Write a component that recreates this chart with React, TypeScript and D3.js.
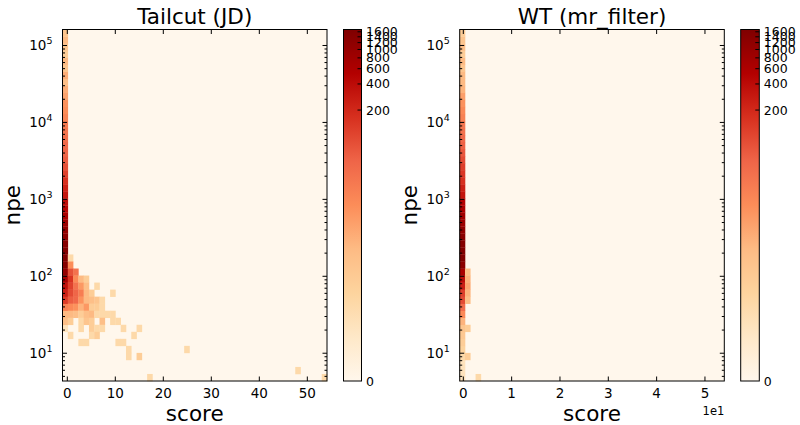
import React from 'react';
import * as d3 from 'd3';

// ---------------- data ----------------
const N_BINS = 50;
const tailcutScoreRange = [-1.0, 54.1];
const wtScoreRange = [-0.75, 54.0];
const npeRange = [4.355, 161400];

// counts of the first score bin, npe bins from bottom (row 0) to top (row 49)
const tailcutFirstColumn = [
  0, 0, 0, 0, 0, 0, 0, 0.5, 4, 5,
  22, 130, 250, 350, 700, 1100, 1500, 1650, 1600, 1450,
  1300, 1100, 900, 650, 480, 380, 300, 230, 160, 110,
  80, 60, 50, 45, 38, 32, 28, 20, 16, 14,
  9, 7, 4, 7, 3, 5, 2, 3, 5, 3,
];
// other non-empty cells: [score bin, npe bin, count]
const tailcutCells: [number, number, number][] = [
  [1, 17, 1],
  [1, 16, 16],
  [1, 15, 80], [2, 15, 35],
  [1, 14, 150], [2, 14, 18], [3, 14, 5], [4, 14, 2],
  [1, 13, 110], [2, 13, 35], [3, 13, 12], [4, 13, 4], [6, 13, 1],
  [1, 12, 90], [2, 12, 50], [3, 12, 25], [4, 12, 5], [5, 12, 2], [9, 12, 1],
  [1, 11, 60], [2, 11, 45], [3, 11, 14], [4, 11, 5], [5, 11, 4], [6, 11, 3], [7, 11, 1],
  [1, 10, 18], [2, 10, 14], [3, 10, 6], [4, 10, 12], [5, 10, 2], [6, 10, 2], [7, 10, 1],
  [1, 9, 5], [2, 9, 4], [3, 9, 2], [4, 9, 4], [5, 9, 5], [6, 9, 1], [7, 9, 1], [8, 9, 1], [9, 9, 1],
  [1, 8, 2], [3, 8, 1], [4, 8, 3], [5, 8, 2], [7, 8, 4], [9, 8, 1], [10, 8, 1],
  [3, 7, 1], [5, 7, 2], [6, 7, 1], [7, 7, 1], [11, 7, 1], [14, 7, 1],
  [1, 6, 1], [5, 6, 1], [6, 6, 2], [13, 6, 1],
  [3, 5, 1], [4, 5, 1], [10, 5, 1], [11, 5, 1],
  [12, 4, 1], [23, 4, 1],
  [12, 3, 1], [14, 3, 2],
  [44, 1, 1],
  [16, 0, 1], [49, 0, 1],
];

const wtFirstColumn = [
  0.5, 0.5, 0.5, 1, 1.5, 2, 2.5, 3, 6, 18,
  40, 90, 120, 250, 400, 650, 1300, 1650, 1600, 1500,
  1350, 1150, 900, 800, 600, 500, 320, 240, 165, 140,
  120, 90, 70, 55, 45, 35, 30, 22, 18, 14,
  10, 6, 5, 5, 3, 5, 2, 4, 3, 2,
];
const wtCells: [number, number, number][] = [
  [1, 15, 4], [1, 14, 6], [1, 13, 8], [1, 12, 6], [1, 11, 4],
  [1, 7, 2], [1, 3, 2], [3, 0, 1],
];

const scoreTicks = [0, 10, 20, 30, 40, 50];
const npeMajorTicks = [10, 100, 1000, 10000, 100000];
const colorbarTicks = [0, 200, 400, 600, 800, 1000, 1200, 1400, 1600];
const orrd = ['#fff7ec', '#fee8c8', '#fdd49e', '#fdbb84', '#fc8d59', '#ef6548', '#d7301f', '#b30000', '#7f0000'];

// ---------------- styling / layout ----------------
const W = 800;
const H = 425;
const TOP = 29.5;
const BOTTOM = 381;
const NORM_C = 0.15;
const NORM_VMAX = 1700;
const FONT = 'DejaVu Sans, sans-serif';

const cmap = d3
  .scaleLinear<string>()
  .domain(orrd.map((_, i) => i / (orrd.length - 1)))
  .range(orrd)
  .interpolate(d3.interpolateRgb)
  .clamp(true);
const norm = (v: number) => Math.log1p(v / NORM_C) / Math.log1p(NORM_VMAX / NORM_C);

type PanelProps = {
  id: string;
  title: string;
  range: number[];
  firstColumn: number[];
  cells: [number, number, number][];
  px0: number;
  px1: number;
  cbx0: number;
  cbx1: number;
  scaledTicks: boolean;
};

function Panel({ id, title, range, firstColumn, cells, px0, px1, cbx0, cbx1, scaledTicks }: PanelProps) {
  const x = d3.scaleLinear().domain(range).range([px0, px1]);
  const y = d3.scaleLog().domain(npeRange).range([BOTTOM, TOP]);
  const xEdges = d3.range(N_BINS + 1).map((i) => range[0] + (i * (range[1] - range[0])) / N_BINS);
  const ly0 = Math.log10(npeRange[0]);
  const ly1 = Math.log10(npeRange[1]);
  const yEdges = d3.range(N_BINS + 1).map((i) => Math.pow(10, ly0 + (i * (ly1 - ly0)) / N_BINS));

  const all: [number, number, number][] = [
    ...firstColumn.map((v, r) => [0, r, v] as [number, number, number]),
    ...cells,
  ].filter((c) => c[2] > 0);

  const minor: number[] = [];
  for (let k = 0; k <= 5; k++) {
    for (let m = 2; m <= 9; m++) {
      const v = m * Math.pow(10, k);
      if (v > npeRange[0] && v < npeRange[1]) minor.push(v);
    }
  }

  const cbScale = d3.scaleLinear().domain([0, 1]).range([BOTTOM, TOP]);
  const cx = (px0 + px1) / 2;
  const cy = (TOP + BOTTOM) / 2;

  return (
    <g>
      <defs>
        <linearGradient id={`grad-${id}`} x1="0" y1="1" x2="0" y2="0">
          {orrd.map((c, i) => (
            <stop key={i} offset={`${(i / (orrd.length - 1)) * 100}%`} stopColor={c} />
          ))}
        </linearGradient>
      </defs>
      {/* heatmap */}
      <rect x={px0} y={TOP} width={px1 - px0} height={BOTTOM - TOP} fill={cmap(0)} />
      {all.map(([c, r, v], i) => (
        <rect
          key={i}
          x={x(xEdges[c])}
          y={y(yEdges[r + 1])}
          width={x(xEdges[c + 1]) - x(xEdges[c]) + 0.3}
          height={y(yEdges[r]) - y(yEdges[r + 1]) + 0.3}
          fill={cmap(norm(v))}
        />
      ))}
      {/* x ticks */}
      {scoreTicks.map((t) => (
        <g key={t}>
          <line x1={x(t)} x2={x(t)} y1={BOTTOM} y2={BOTTOM - 4.5} stroke="#000" strokeWidth={1} />
          <line x1={x(t)} x2={x(t)} y1={TOP} y2={TOP + 4.5} stroke="#000" strokeWidth={1} />
          <text x={x(t)} y={397.7} textAnchor="middle" fontSize={13.5} fontFamily={FONT} fill="#000">
            {scaledTicks ? String(t / 10) : String(t)}
          </text>
        </g>
      ))}
      {/* y ticks */}
      {npeMajorTicks.map((t) => (
        <g key={t}>
          <line x1={px0} x2={px0 + 4.5} y1={y(t)} y2={y(t)} stroke="#000" strokeWidth={1} />
          <line x1={px1} x2={px1 - 4.5} y1={y(t)} y2={y(t)} stroke="#000" strokeWidth={1} />
          <text x={px0 - 10} y={y(t) + 5} textAnchor="end" fontSize={13.5} fontFamily={FONT} fill="#000">
            10
            <tspan fontSize={9.5} dy={-6.5}>
              {String(Math.round(Math.log10(t)))}
            </tspan>
          </text>
        </g>
      ))}
      {minor.map((t) => (
        <g key={t}>
          <line x1={px0} x2={px0 + 2.5} y1={y(t)} y2={y(t)} stroke="#000" strokeWidth={1} />
          <line x1={px1} x2={px1 - 2.5} y1={y(t)} y2={y(t)} stroke="#000" strokeWidth={1} />
        </g>
      ))}
      <rect x={px0} y={TOP} width={px1 - px0} height={BOTTOM - TOP} fill="none" stroke="#000" strokeWidth={1} />
      {scaledTicks && (
        <text x={px1} y={414.5} textAnchor="end" fontSize={11.5} fontFamily={FONT} fill="#000">
          1e1
        </text>
      )}
      {/* labels */}
      <text x={cx} y={24} textAnchor="middle" fontSize={21.5} fontFamily={FONT} fill="#000">
        {title}
      </text>
      <text x={cx} y={421} textAnchor="middle" fontSize={21.5} fontFamily={FONT} fill="#000">
        score
      </text>
      <text
        transform={`translate(${px0 - 42.5},${cy}) rotate(-90)`}
        textAnchor="middle"
        fontSize={21.5}
        fontFamily={FONT}
        fill="#000"
      >
        npe
      </text>
      {/* colorbar */}
      <rect x={cbx0} y={TOP} width={cbx1 - cbx0} height={BOTTOM - TOP} fill={`url(#grad-${id})`} stroke="#000" strokeWidth={1} />
      {colorbarTicks.map((t) => (
        <g key={t}>
          {t > 0 && (
            <line x1={cbx1} x2={cbx1 - 4} y1={cbScale(norm(t))} y2={cbScale(norm(t))} stroke="#000" strokeWidth={1} />
          )}
          <text x={cbx1 + 4.5} y={cbScale(norm(t)) + 4.5} fontSize={12.5} fontFamily={FONT} fill="#000">
            {String(t)}
          </text>
        </g>
      ))}
    </g>
  );
}

export default function App() {
  return (
    <svg
      width={W}
      height={H}
      viewBox={`0 0 ${W} ${H}`}
      style={{ position: 'absolute', left: 0, top: 0, background: '#fff' }}
    >
      <rect x={0} y={0} width={W} height={H} fill="#fff" />
      <Panel
        id="tailcut"
        title="Tailcut (JD)"
        range={tailcutScoreRange}
        firstColumn={tailcutFirstColumn}
        cells={tailcutCells}
        px0={62.5}
        px1={327}
        cbx0={343.5}
        cbx1={361.5}
        scaledTicks={false}
      />
      <Panel
        id="wt"
        title="WT (mr_filter)"
        range={wtScoreRange}
        firstColumn={wtFirstColumn}
        cells={wtCells}
        px0={459.7}
        px1={724.3}
        cbx0={740.7}
        cbx1={759.3}
        scaledTicks={true}
      />
    </svg>
  );
}
